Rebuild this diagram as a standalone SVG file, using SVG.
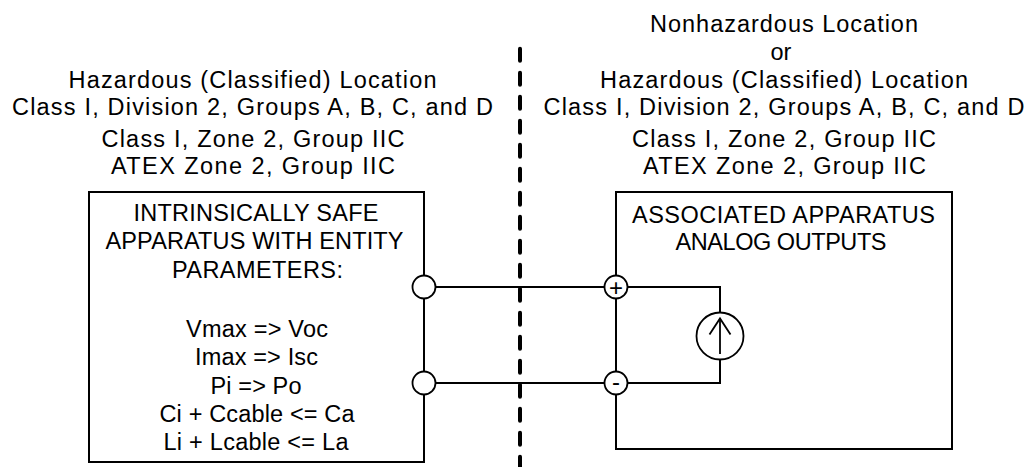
<svg xmlns="http://www.w3.org/2000/svg" width="1026" height="467" viewBox="0 0 1026 467">
<style>
text{font-family:"Liberation Sans",Arial,sans-serif;font-size:23.5px;fill:#000;text-anchor:middle}
.box{fill:none;stroke:#000;stroke-width:2}
.wire{fill:none;stroke:#000;stroke-width:2}
.term{fill:#fff;stroke:#000;stroke-width:1.8}
.sym{font-size:24px}
</style>
<rect width="1026" height="467" fill="#fff"/>
<g id="header-left">
<text x="252.5" y="88" textLength="368" lengthAdjust="spacing">Hazardous (Classified) Location</text>
<text x="252.5" y="115" textLength="481" lengthAdjust="spacing">Class I, Division 2, Groups A, B, C, and D</text>
<text x="253" y="147" textLength="303" lengthAdjust="spacing">Class I, Zone 2, Group IIC</text>
<text x="253" y="174" textLength="284" lengthAdjust="spacing">ATEX Zone 2, Group IIC</text>
</g>
<g id="header-right">
<text x="784" y="32" textLength="268" lengthAdjust="spacing">Nonhazardous Location</text>
<text x="781" y="60">or</text>
<text x="784" y="88" textLength="368" lengthAdjust="spacing">Hazardous (Classified) Location</text>
<text x="784" y="115" textLength="481" lengthAdjust="spacing">Class I, Division 2, Groups A, B, C, and D</text>
<text x="784" y="147" textLength="304" lengthAdjust="spacing">Class I, Zone 2, Group IIC</text>
<text x="784.5" y="174" textLength="283" lengthAdjust="spacing">ATEX Zone 2, Group IIC</text>
</g>
<g id="boundary">
<line x1="520" y1="48.7" x2="520" y2="470" stroke="#000" stroke-width="4" stroke-dasharray="12 12" stroke-linecap="round"/>
</g>
<g id="is-apparatus">
<rect class="box" x="89" y="192" width="335" height="270"/>
<text x="256" y="221" textLength="245" lengthAdjust="spacing">INTRINSICALLY SAFE</text>
<text x="254.5" y="249" textLength="298" lengthAdjust="spacing">APPARATUS WITH ENTITY</text>
<text x="257.5" y="277.5" textLength="171" lengthAdjust="spacing">PARAMETERS:</text>
<text x="257" y="336.5" textLength="142" lengthAdjust="spacing">Vmax =&gt; Voc</text>
<text x="256.5" y="365" textLength="123" lengthAdjust="spacing">Imax =&gt; Isc</text>
<text x="256" y="393.5" textLength="91" lengthAdjust="spacing">Pi =&gt; Po</text>
<text x="257" y="421.5" textLength="195" lengthAdjust="spacing">Ci + Ccable &lt;= Ca</text>
<text x="256" y="450" textLength="185" lengthAdjust="spacing">Li + Lcable &lt;= La</text>
</g>
<g id="assoc-apparatus">
<rect class="box" x="616" y="192" width="336" height="257"/>
<text x="783.5" y="223" textLength="303" lengthAdjust="spacing">ASSOCIATED APPARATUS</text>
<text x="781" y="250" textLength="211" lengthAdjust="spacing">ANALOG OUTPUTS</text>
</g>
<g id="connectors">
<line class="wire" x1="424" y1="287" x2="616" y2="287"/>
<line class="wire" x1="424" y1="383" x2="616" y2="383"/>
<polyline class="wire" points="616,287 720,287 720,313"/>
<polyline class="wire" points="720,359 720,383 616,383"/>
</g>
<g id="is-terminals">
<circle class="term" cx="424" cy="287" r="11.5"/>
<circle class="term" cx="424" cy="383" r="11.5"/>
</g>
<g id="assoc-terminals">
<circle class="term" cx="616" cy="287" r="11.5"/>
<text class="sym" x="616" y="295.5">+</text>
<circle class="term" cx="616" cy="383" r="11.5"/>
<text class="sym" x="616" y="390">-</text>
</g>
<g id="current-source">
<circle cx="720" cy="336" r="23.5" fill="#fff" stroke="#000" stroke-width="1.8"/>
<line x1="720" y1="354" x2="720" y2="318.5" stroke="#000" stroke-width="1.8"/>
<polyline points="709.5,334.5 720,318.5 730.5,334.5" fill="none" stroke="#000" stroke-width="1.8"/>
</g>
</svg>
